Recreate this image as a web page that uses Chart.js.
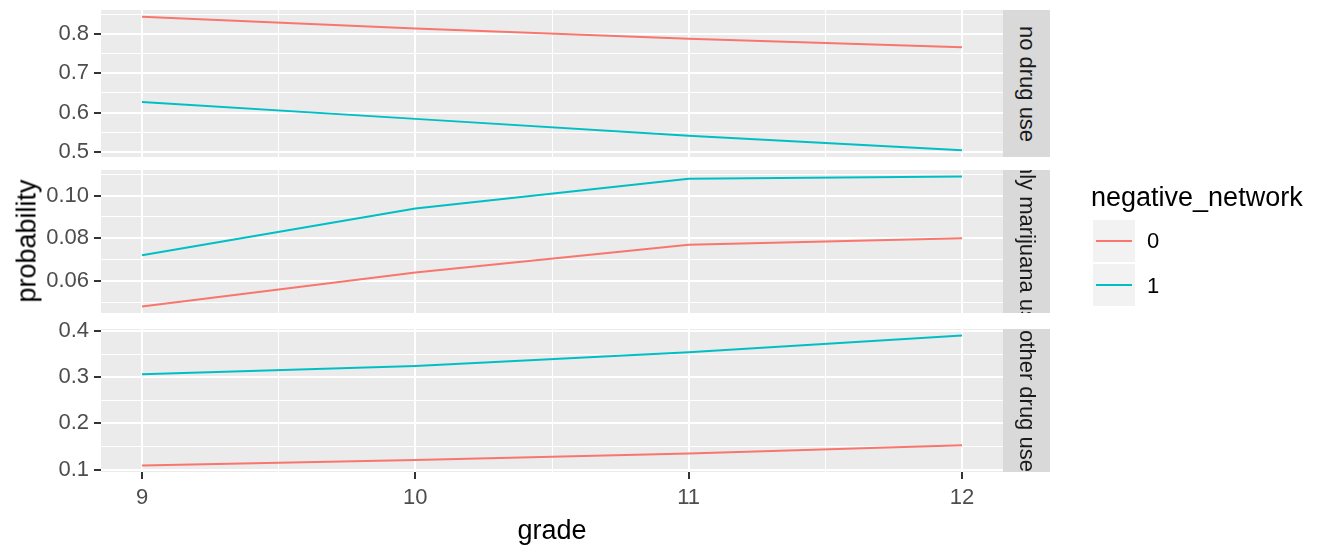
<!DOCTYPE html>
<html>
<head>
<meta charset="utf-8">
<script src="https://cdn.jsdelivr.net/npm/chart.js@4/dist/chart.umd.min.js"></script>
<style>
  body { margin: 0; background: #fff; font-family: "Liberation Sans", Arial, sans-serif; }
  #wrap { position: relative; width: 1317px; height: 546px; overflow: hidden; }
  .layer { position: absolute; left: 0; top: 0; width: 1317px; height: 546px; }
  .strip { position: absolute; background: #D9D9D9; overflow: hidden; }
  .strip span { position: absolute; left: 50%; top: 50%; white-space: nowrap;
    transform: translate(-50%, -50%) rotate(90deg); font-size: 22px; color: #1A1A1A; }
  .title { position: absolute; font-size: 27px; color: #000; white-space: nowrap; }
  .key { position: absolute; background: #F2F2F2; }
  .key i { position: absolute; left: 3px; right: 3px; top: 50%; height: 2px; margin-top: -1px; }
  .klabel { position: absolute; font-size: 22px; color: #000; }
</style>
</head>
<body>
<div id="wrap">
  <canvas id="panel0" class="layer" width="1317" height="546"></canvas>
  <canvas id="panel1" class="layer" width="1317" height="546"></canvas>
  <canvas id="panel2" class="layer" width="1317" height="546"></canvas>
</div>
<script>
/* Faceted line chart: probability by grade, split by negative_network */

const grades = [9, 10, 11, 12];
const gradeMinor = [9.5, 10.5, 11.5];
const facetNames = ["no drug use", "only marijuana use", "other drug use"];
const groupNames = ["0", "1"];
const groupColors = ["#F8766D", "#00BFC4"];

const noDrug0 = [0.844, 0.814, 0.788, 0.766];
const noDrug1 = [0.627, 0.584, 0.541, 0.504];
const marijuana0 = [0.048, 0.064, 0.077, 0.080];
const marijuana1 = [0.072, 0.094, 0.108, 0.109];
const otherDrug0 = [0.109, 0.121, 0.135, 0.153];
const otherDrug1 = [0.306, 0.324, 0.354, 0.390];

const noDrugTicks = [0.5, 0.6, 0.7, 0.8];
const noDrugMinor = [0.55, 0.65, 0.75, 0.85];
const marijuanaTicks = [0.06, 0.08, 0.10];
const marijuanaMinor = [0.05, 0.07, 0.09, 0.11];
const otherDrugTicks = [0.1, 0.2, 0.3, 0.4];
const otherDrugMinor = [0.15, 0.25, 0.35];

const W = 1317, H = 546;
const PANEL_LEFT = 101, PANEL_RIGHT = 1003;
const panelBoxes = [
  { top: 10, bottom: 157 },
  { top: 170, bottom: 313 },
  { top: 329, bottom: 472 },
];

Chart.defaults.font.family = '"Liberation Sans", Arial, sans-serif';

function expandRange(values) {
  const lo = Math.min(...values);
  const hi = Math.max(...values);
  const pad = (hi - lo) * 0.05;
  return [lo - pad, hi + pad];
}

const panelBg = {
  id: "panelBg",
  beforeDraw(chart) {
    const a = chart.chartArea;
    const ctx = chart.ctx;
    ctx.save();
    ctx.fillStyle = "#EBEBEB";
    ctx.fillRect(a.left, a.top, a.right - a.left, a.bottom - a.top);
    ctx.restore();
  },
};

function gridStyle(majors) {
  const isMajor = (v) => majors.some((m) => Math.abs(m - v) < 1e-9);
  return {
    isMajor,
    grid: {
      color: "#FFFFFF",
      lineWidth: (c) => (c.tick && isMajor(c.tick.value) ? 2 : 1),
      tickColor: (c) => (c.tick && isMajor(c.tick.value) ? "#333333" : "rgba(0,0,0,0)"),
      tickLength: 7,
    },
  };
}

function buildPanel(canvasId, idx, series0, series1, majors, minors, decimals, showX) {
  const box = panelBoxes[idx];
  const [ymin, ymax] = expandRange(series0.concat(series1));
  const xr = expandRange(grades);
  const yg = gridStyle(majors);
  const xg = gridStyle(grades);
  const X_AXIS_H = 40;

  const datasets = [series0, series1].map((vals, i) => ({
    label: groupNames[i],
    data: grades.map((g, j) => ({ x: g, y: vals[j] })),
    borderColor: groupColors[i],
    borderWidth: 2,
    pointRadius: 0,
    tension: 0,
    fill: false,
  }));

  return new Chart(document.getElementById(canvasId), {
    type: "line",
    data: { datasets },
    plugins: [panelBg],
    options: {
      responsive: false,
      animation: false,
      events: [],
      layout: {
        padding: {
          left: 0,
          right: W - PANEL_RIGHT,
          top: box.top,
          bottom: showX ? H - box.bottom - X_AXIS_H : H - box.bottom,
        },
      },
      plugins: { legend: { display: false }, tooltip: { enabled: false } },
      scales: {
        x: {
          type: "linear",
          min: xr[0],
          max: xr[1],
          border: { display: false },
          grid: Object.assign({}, xg.grid, { drawTicks: showX }),
          afterBuildTicks: (s) => {
            s.ticks = grades.concat(gradeMinor).sort((a, b) => a - b).map((v) => ({ value: v }));
          },
          ticks: {
            display: showX,
            autoSkip: false,
            maxRotation: 0,
            padding: 6,
            color: "#4D4D4D",
            font: { size: 22 },
            callback: (v) => (xg.isMajor(v) ? String(v) : ""),
          },
          afterFit: (s) => {
            s.height = showX ? X_AXIS_H : 0;
            s.paddingLeft = 0;
            s.paddingRight = 0;
          },
        },
        y: {
          type: "linear",
          min: ymin,
          max: ymax,
          border: { display: false },
          grid: yg.grid,
          afterBuildTicks: (s) => {
            s.ticks = majors.concat(minors).sort((a, b) => a - b).map((v) => ({ value: v }));
          },
          ticks: {
            autoSkip: false,
            padding: 5,
            color: "#4D4D4D",
            font: { size: 22 },
            callback: (v) => (yg.isMajor(v) ? v.toFixed(decimals) : ""),
          },
          afterFit: (s) => {
            s.width = PANEL_LEFT;
            s.paddingTop = 0;
            s.paddingBottom = 0;
          },
        },
      },
    },
  });
}

function addStrip(idx) {
  const box = panelBoxes[idx];
  const div = document.createElement("div");
  div.className = "strip";
  div.style.left = PANEL_RIGHT + "px";
  div.style.width = "47px";
  div.style.top = box.top + "px";
  div.style.height = box.bottom - box.top + "px";
  const span = document.createElement("span");
  span.textContent = facetNames[idx];
  div.appendChild(span);
  document.getElementById("wrap").appendChild(div);
}

function addText(cls, text, css) {
  const el = document.createElement("div");
  el.className = cls;
  el.textContent = text;
  Object.assign(el.style, css);
  document.getElementById("wrap").appendChild(el);
  return el;
}

function addLegend() {
  const wrap = document.getElementById("wrap");
  addText("title", "negative_network", { left: "1091px", top: "182px" });
  groupNames.forEach((name, i) => {
    const key = document.createElement("div");
    key.className = "key";
    Object.assign(key.style, { left: "1093px", top: 220 + i * 44 + "px", width: "42px", height: "42px" });
    const line = document.createElement("i");
    line.style.background = groupColors[i];
    key.appendChild(line);
    wrap.appendChild(key);
    addText("klabel", name, { left: "1147px", top: 228 + i * 45 + "px" });
  });
}

buildPanel("panel0", 0, noDrug0, noDrug1, noDrugTicks, noDrugMinor, 1, false);
buildPanel("panel1", 1, marijuana0, marijuana1, marijuanaTicks, marijuanaMinor, 2, false);
buildPanel("panel2", 2, otherDrug0, otherDrug1, otherDrugTicks, otherDrugMinor, 1, true);

facetNames.forEach((_, i) => addStrip(i));

addText("title", "grade", { left: (PANEL_LEFT + PANEL_RIGHT) / 2 + "px", top: "515px", transform: "translateX(-50%)" });
addText("title", "probability", {
  left: "27px",
  top: (panelBoxes[0].top + panelBoxes[2].bottom) / 2 + "px",
  transform: "translate(-50%, -50%) rotate(-90deg)",
});
addLegend();
</script>
</body>
</html>
